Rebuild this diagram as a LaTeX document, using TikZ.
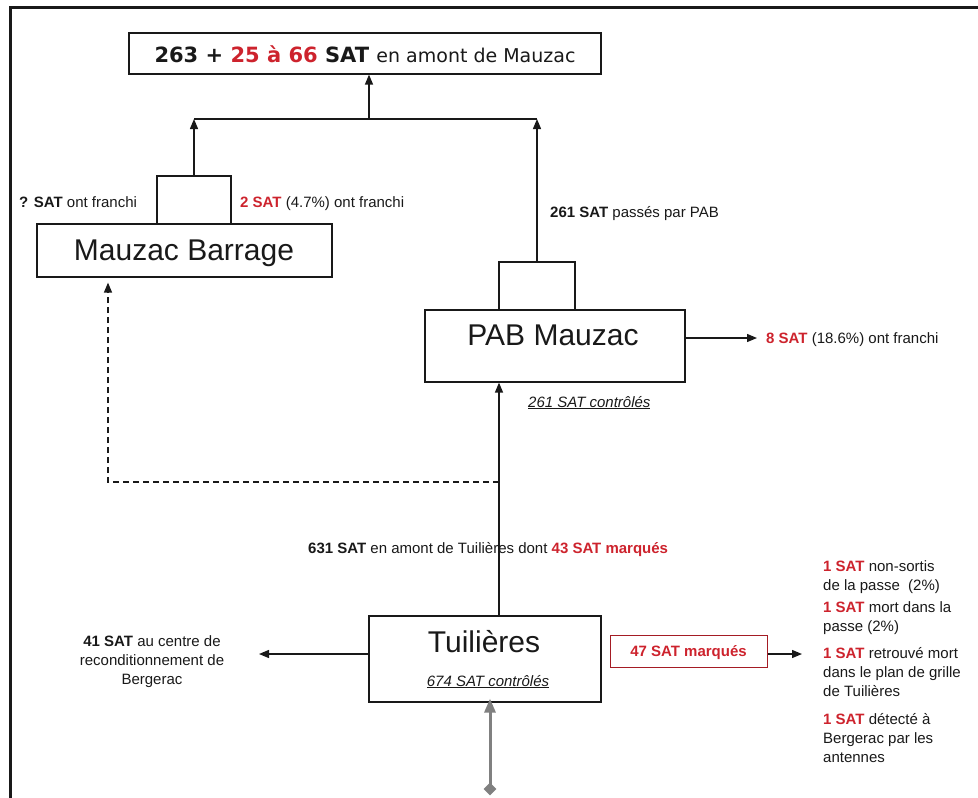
\documentclass[tikz,border=0pt]{standalone}
\usepackage{fontspec}
\setmainfont{Liberation Sans}
\newfontfamily\titlefont{DejaVu Sans}
\usetikzlibrary{arrows.meta,shapes.geometric}
\definecolor{sred}{RGB}{205,35,45}
\definecolor{ink}{RGB}{25,25,25}
\definecolor{pipe}{RGB}{128,128,128}
\begin{document}
\begin{tikzpicture}[x=1pt,y=-1pt,
  box/.style n args={2}{draw=ink,line width=1.2pt,minimum width=#1,minimum height=#2,inner sep=0pt},
  small/.style={font=\fontsize{15}{19}\selectfont,inner sep=0pt,text=ink},
  big/.style={font=\fontsize{30}{34}\selectfont,inner sep=0pt,text=ink},
  arr/.style={draw=ink,line width=1.3pt,-{Triangle[length=10pt,width=8pt]}},
  link/.style={draw=ink,line width=1.3pt}]
\useasboundingbox (0,0) rectangle (978,798);
% frame
\draw[line width=3pt,ink] (10,798) -- (10,7) -- (978,7);
% top box
\node[box={472pt}{41pt}] (top) at (365,53.5) {};
\node[inner sep=0pt,text=ink] (toptxt) at (365,54) {\titlefont\fontsize{21}{24}\selectfont\bfseries 263 + \textcolor{sred}{25 à 66} SAT \fontsize{19}{24}\selectfont\mdseries en amont de Mauzac};
% junction
\coordinate (jc) at (369,119);
\coordinate (jl) at (194,119);
\coordinate (jr) at (537,119);
\draw[arr] (jc) -- (jc |- top.south);
\draw[link] (jl) -- (jr);
% Mauzac Barrage
\node[box={74pt}{48pt}] (mbs) at (194,200) {};
\node[box={295pt}{53pt}] (mb) at (184.5,250.5) {};
\node[big,anchor=base] (mbtxt) at (184,260) {Mauzac Barrage};
\draw[arr] (mbs.north) -- (jl);
\node[small,anchor=base west] (mbq) at (19,207) {\textbf{? SAT} ont franchi};
\node[small,anchor=base west] (mb2) at (240,207) {\textcolor{sred}{\textbf{2 SAT}} (4.7\%) ont franchi};
% PAB Mauzac
\node[box={76pt}{48pt}] (pabs) at (537,286) {};
\node[box={260pt}{72pt}] (pab) at (555,346) {};
\node[big,anchor=base] (pabtxt) at (553,345) {PAB Mauzac};
\draw[arr] (pabs.north) -- (jr);
\node[small,anchor=base west] (pab261) at (550,217) {\textbf{261 SAT} passés par PAB};
\coordinate (pabout) at (757,338);
\draw[arr] (pab.east |- pabout) -- (pabout);
\node[small,anchor=base west] (pab8) at (766,343) {\textcolor{sred}{\textbf{8 SAT}} (18.6\%) ont franchi};
\node[small,anchor=base west] (pabctl) at (528,407) {\underline{\textit{261 SAT contrôlés}}};
% Tuilieres
\node[box={232pt}{86pt}] (tui) at (485,659) {};
\node[big,anchor=base] (tuitxt) at (484,652) {Tuilières};
\node[small,anchor=base] (tuictl) at (488,686) {\underline{\textit{674 SAT contrôlés}}};
\coordinate (tuiup) at (499,616);
\draw[arr] (tuiup) -- (tuiup |- pab.south);
\node[small,anchor=base west] (t631) at (308,553) {\textbf{631 SAT} en amont de Tuilières dont \textcolor{sred}{\textbf{43 SAT marqués}}};
% dashed link to Mauzac Barrage
\coordinate (dj) at (499,482);
\coordinate (dc) at (108,482);
\draw[ink,line width=1.3pt,dash pattern=on 6pt off 4pt,-{Triangle[length=10pt,width=8pt]}] (dj) -- (dc) -- ([yshift=-5pt]dc |- mb.south);
% left exit
\coordinate (lout) at (259,654);
\draw[arr] (tui.west |- lout) -- (lout);
\node[small,align=center] (berg) at (152,662) {\textbf{41 SAT} au centre de\\reconditionnement de\\Bergerac};
% red box
\node[draw=sred!80!black,line width=1pt,minimum width=157pt,minimum height=32pt,inner sep=0pt] (m47) at (688.5,651) {};
\node[small,anchor=base,font=\fontsize{15}{19}\selectfont\bfseries,text=sred] (m47txt) at (688.5,656.5) {47 SAT marqués};
\coordinate (rout) at (802,654);
\draw[arr] (m47.east |- rout) -- (rout);
% right list
\node[small,anchor=base west] (r1) at (823,571) {\textcolor{sred}{\textbf{1 SAT}} non-sortis};
\node[small,anchor=base west] (r2) at (823,590) {de la passe \ (2\%)};
\node[small,anchor=base west] (r3) at (823,612) {\textcolor{sred}{\textbf{1 SAT}} mort dans la};
\node[small,anchor=base west] (r4) at (823,631) {passe (2\%)};
\node[small,anchor=base west] (r5) at (823,658) {\textcolor{sred}{\textbf{1 SAT}} retrouvé mort};
\node[small,anchor=base west] (r6) at (823,677) {dans le plan de grille};
\node[small,anchor=base west] (r7) at (823,696) {de Tuilières};
\node[small,anchor=base west] (r8) at (823,724) {\textcolor{sred}{\textbf{1 SAT}} détecté à};
\node[small,anchor=base west] (r9) at (823,743) {Bergerac par les};
\node[small,anchor=base west] (r10) at (823,762) {antennes};
% gray inflow
\node[diamond,fill=pipe,inner sep=0pt,minimum size=13pt] (src) at (490,789) {};
\draw[pipe,line width=3pt,-{Triangle[length=14pt,width=11pt]}] (src.center) -- ([yshift=4pt]src.center |- tui.south);
\end{tikzpicture}
\end{document}
